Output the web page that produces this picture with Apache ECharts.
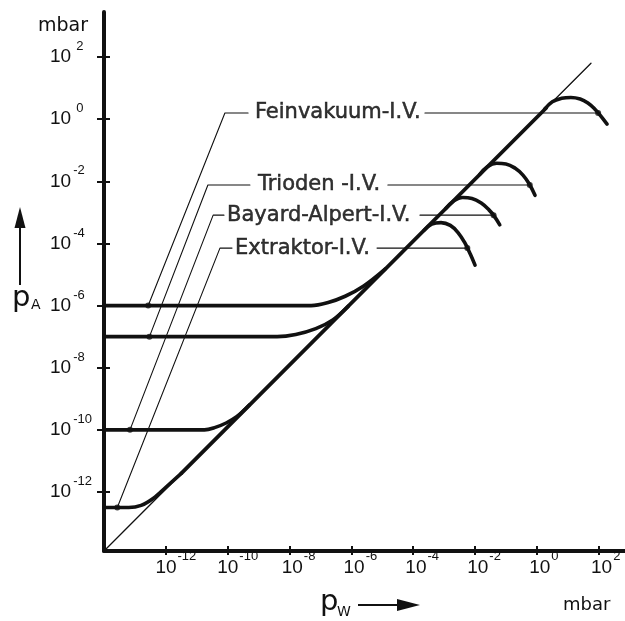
<!DOCTYPE html>
<html><head><meta charset="utf-8">
<script src="https://cdn.jsdelivr.net/npm/echarts@6/dist/echarts.min.js"></script>
<style>html,body{margin:0;padding:0;background:#fff}#c{width:625px;height:621px}</style>
</head><body><div id="c"></div>
<script>
// ---- data (all values are log10 of pressure in mbar: [log pW, log pA]) ----
const xTicks = [-12, -10, -8, -6, -4, -2, 0, 2];
const yTicks = [-12, -10, -8, -6, -4, -2, 0, 2];
const gaugeNames = ['Feinvakuum-I.V.', 'Trioden -I.V.', 'Bayard-Alpert-I.V.', 'Extraktor-I.V.'];

const idealLine = [[-14, -13.9], [1.75, 1.8]];                 // pA = pW (thin)
const measuredDiagonal = [[-11.5, -11.4], [0.3, 0.36]];          // common thick part

const residualFein = [[-14, -6], [-7.3, -6], [-6.75, -5.9], [-6.2, -5.7], [-5.6, -5.37], [-4.9, -4.82]];
const residualTrio = [[-14, -7], [-8.4, -7], [-7.8, -6.93], [-7.15, -6.74], [-6.6, -6.46], [-6.1, -6.02]];
const residualBA   = [[-14, -10], [-10.75, -10], [-10.4, -9.92], [-10.05, -9.78], [-9.71, -9.58], [-9.3, -9.2]];
const residualExt  = [[-14, -12.5], [-13.2, -12.5], [-12.8, -12.43], [-12.4, -12.2], [-12.0, -11.85], [-11.5, -11.4]];

const upperFein = [[0.25, 0.32], [0.5, 0.56], [0.8, 0.67], [1.1, 0.7], [1.4, 0.65], [1.65, 0.52], [1.87, 0.33], [2.05, 0.12], [2.27, -0.16]];
const upperTrio = [[-1.85, -1.78], [-1.6, -1.53], [-1.3, -1.42], [-1.0, -1.44], [-0.7, -1.58], [-0.45, -1.8], [-0.25, -2.08], [-0.06, -2.45]];
const upperBA   = [[-2.95, -2.88], [-2.7, -2.64], [-2.4, -2.52], [-2.1, -2.55], [-1.8, -2.7], [-1.55, -2.92], [-1.38, -3.12], [-1.2, -3.4]];
const upperExt  = [[-3.65, -3.58], [-3.4, -3.38], [-3.1, -3.33], [-2.8, -3.42], [-2.55, -3.65], [-2.32, -4.0], [-2.15, -4.35], [-2.0, -4.7]];

// annotation (leader) geometry, in the same log coordinates
const leaderDots    = [[-12.57, -6], [-12.53, -7], [-13.16, -10], [-13.57, -12.5]];
const leaderCorners = [[-10.09, 0.2], [-10.64, -2.12], [-10.47, -3.09], [-10.25, -4.15]];
const leadInEndX    = [-9.34, -9.28, -10.12, -9.86];
const textStartX    = [-9.12, -9.02, -10.02, -9.76];
const trailStartX   = [-3.62, -4.82, -3.78, -5.17];
const arcDotX       = [1.98, -0.23, -1.40, -2.25];

// ---- chart ----
const INK = '#111111';
const X_MIN = -14, X_MAX = 2.85, Y_MIN = -13.9, Y_MAX = 3.45;

function supWidthStyle(e) {
  const s = String(e);
  return s.length >= 3 ? 'b20' : (s.length === 2 ? 'b18' : 'b14');
}
const baseX = { fontFamily: 'Liberation Sans', fontSize: 19, color: INK, lineHeight: 36 };
const supX = { fontFamily: 'Liberation Sans', fontSize: 13, color: INK, lineHeight: 10, verticalAlign: 'top', padding: [0, 0, 0, 1] };

function line(data, width, smooth, z) {
  return { type: 'line', data, symbol: 'none', smooth: smooth || false, silent: true,
    lineStyle: { width, color: INK, cap: 'round', join: 'round' }, z: z || 2 };
}

const series = [];
series.push(line(idealLine, 1.3, false, 1));
series.push(line(measuredDiagonal, 3.8, false, 3));
[residualFein, residualTrio, residualBA, residualExt].forEach(d => series.push(line(d, 3.6, 0.35, 3)));
[upperFein, upperTrio, upperBA, upperExt].forEach(d => series.push(line(d, 3.6, 0.4, 3)));

gaugeNames.forEach((n, i) => {
  const c = leaderCorners[i];
  series.push(line([leaderDots[i], c, [leadInEndX[i], c[1]]], 1.1, false, 2));
  series.push(line([[trailStartX[i], c[1]], [arcDotX[i], c[1]]], 1.1, false, 2));
});

series.push({ type: 'scatter', symbolSize: 6, silent: true, itemStyle: { color: INK }, z: 4,
  data: leaderDots.concat(arcDotX.map((x, i) => [x, leaderCorners[i][1]])) });

series.push({ type: 'scatter', symbolSize: 0, silent: true, z: 5,
  data: gaugeNames.map((n, i) => ({ name: n, value: [textStartX[i], leaderCorners[i][1]] })),
  label: { show: true, position: 'right', distance: 0, formatter: '{b}',
    fontFamily: 'DejaVu Sans', fontSize: 21, color: '#000', textBorderColor: '#000', textBorderWidth: 0.5 } });

const option = {
  backgroundColor: '#ffffff',
  animation: false,
  grid: { left: 104, right: 0, top: 12, bottom: 70, containLabel: false },
  xAxis: [
    { type: 'value', min: X_MIN, max: X_MAX, position: 'bottom',
      axisLine: { show: true, onZero: false, lineStyle: { color: INK, width: 4 } },
      axisTick: { show: true, length: 4, customValues: xTicks, lineStyle: { color: INK, width: 2 } },
      splitLine: { show: false },
      axisLabel: { show: true, customValues: xTicks, margin: -1, showMinLabel: true, showMaxLabel: true, hideOverlap: false,
        formatter: v => { const e = Math.round(v); return '{' + supWidthStyle(e) + '|10}{s|' + e + '}'; },
        rich: {
          b20: Object.assign({}, baseX, { padding: [0, 0, 0, 20] }),
          b18: Object.assign({}, baseX, { padding: [0, 0, 0, 18] }),
          b14: Object.assign({}, baseX, { padding: [0, 0, 0, 14] }),
          s: supX } } },
    { type: 'value', min: X_MIN, max: X_MAX, position: 'bottom',
      axisLine: { show: false, onZero: false }, splitLine: { show: false }, axisLabel: { show: false },
      axisTick: { show: true, inside: true, length: 5, customValues: xTicks, lineStyle: { color: INK, width: 2 } } }
  ],
  yAxis: [
    { type: 'value', min: Y_MIN, max: Y_MAX, position: 'left',
      axisLine: { show: true, onZero: false, lineStyle: { color: INK, width: 4 } },
      axisTick: { show: true, length: 7, customValues: yTicks, lineStyle: { color: INK, width: 2 } },
      splitLine: { show: false },
      axisLabel: { show: true, customValues: yTicks, margin: 54, align: 'left', showMinLabel: true, showMaxLabel: true,
        formatter: v => { const e = Math.round(v); return '{b|10}{' + (e >= 0 ? 'sp' : 's') + '|' + e + '}'; },
        rich: {
          b: { fontFamily: 'Liberation Sans', fontSize: 19, color: INK, lineHeight: 34 },
          s: { fontFamily: 'Liberation Sans', fontSize: 13, color: INK, lineHeight: 10, verticalAlign: 'top', padding: [0, 0, 0, 2] },
          sp: { fontFamily: 'Liberation Sans', fontSize: 13, color: INK, lineHeight: 10, verticalAlign: 'top', padding: [0, 0, 0, 5] } } } },
    { type: 'value', min: Y_MIN, max: Y_MAX, position: 'left',
      axisLine: { show: false, onZero: false }, splitLine: { show: false }, axisLabel: { show: false },
      axisTick: { show: true, inside: true, length: 6, customValues: yTicks, lineStyle: { color: INK, width: 2 } } }
  ],
  series: series,
  graphic: [
    { type: 'text', x: 38, y: 26, style: { text: 'mbar', font: "19px 'DejaVu Sans'", fill: INK, verticalAlign: 'middle', align: 'left' } },
    { type: 'text', x: 563, y: 605, style: { text: 'mbar', font: "18px 'DejaVu Sans'", fill: INK, verticalAlign: 'middle', align: 'left' } },
    // p_A with upward arrow
    { type: 'text', x: 12, y: 298, style: { text: 'p', font: "29px 'DejaVu Sans'", fill: INK, verticalAlign: 'middle', align: 'left' } },
    { type: 'text', x: 31, y: 305, style: { text: 'A', font: "14px 'DejaVu Sans'", fill: INK, verticalAlign: 'middle', align: 'left' } },
    { type: 'line', shape: { x1: 20, y1: 285, x2: 20, y2: 224 }, style: { stroke: INK, lineWidth: 2 } },
    { type: 'polygon', shape: { points: [[14.5, 228], [25.5, 228], [20, 207]] }, style: { fill: INK } },
    // p_W with right arrow
    { type: 'text', x: 320, y: 602, style: { text: 'p', font: "29px 'DejaVu Sans'", fill: INK, verticalAlign: 'middle', align: 'left' } },
    { type: 'text', x: 337, y: 612, style: { text: 'W', font: "14px 'DejaVu Sans'", fill: INK, verticalAlign: 'middle', align: 'left' } },
    { type: 'line', shape: { x1: 358, y1: 605, x2: 400, y2: 605 }, style: { stroke: INK, lineWidth: 2 } },
    { type: 'polygon', shape: { points: [[397, 599], [397, 611], [420, 605]] }, style: { fill: INK } }
  ]
};

const chart = echarts.init(document.getElementById('c'), null, { renderer: 'canvas' });
chart.setOption(option);
</script>
</body></html>
